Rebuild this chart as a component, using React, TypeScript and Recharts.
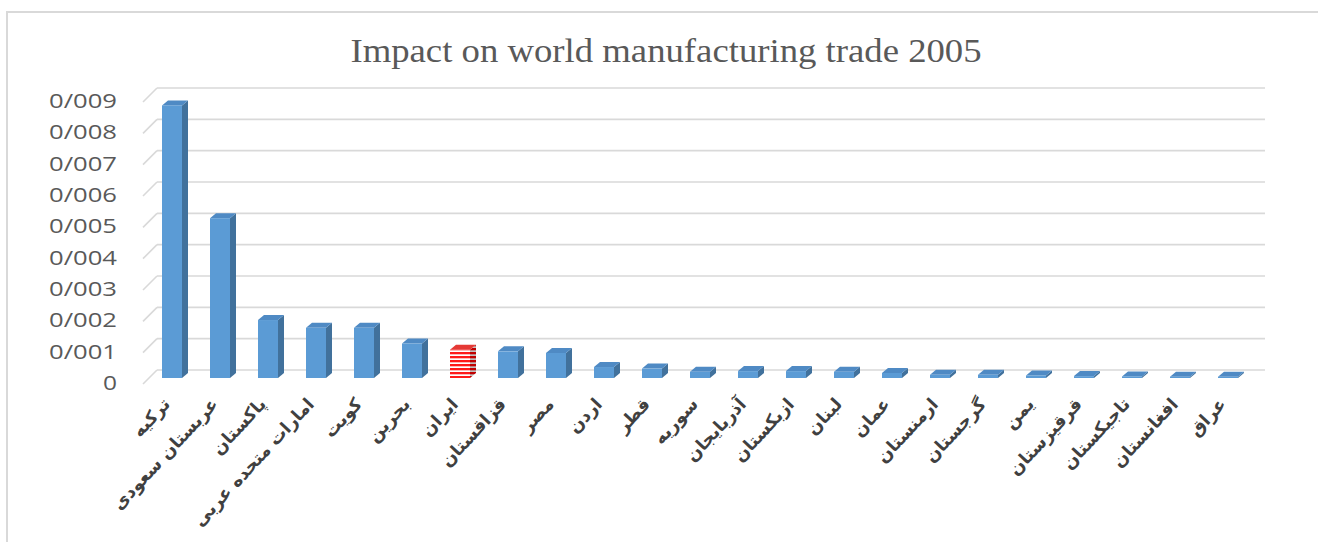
import { Bar, BarChart, CartesianGrid, XAxis, YAxis } from "recharts";

const countries = [
  "ترکیه",
  "عربستان سعودی",
  "پاکستان",
  "امارات متحده عربی",
  "کویت",
  "بحرین",
  "ایران",
  "قزاقستان",
  "مصر",
  "اردن",
  "قطر",
  "سوریه",
  "آذربایجان",
  "ازبکستان",
  "لبنان",
  "عمان",
  "ارمنستان",
  "گرجستان",
  "یمن",
  "قرقیزستان",
  "تاجیکستان",
  "افغانستان",
  "عراق",
];

const impact = [
  0.0087, 0.0051, 0.00185, 0.0016, 0.0016, 0.0011, 0.0009, 0.00085, 0.0008,
  0.00035, 0.0003, 0.0002, 0.00022, 0.00022, 0.0002, 0.00016, 0.0001, 0.0001,
  0.00008, 0.00006, 0.00005, 0.00004, 0.00004,
];

const highlighted = "ایران";

const yTicks = [0, 0.001, 0.002, 0.003, 0.004, 0.005, 0.006, 0.007, 0.008, 0.009];

const chartData = countries.map((name, i) => ({ name, value: impact[i] }));

// 3d depth of the bars
const DX = 6;
const DY = 5;

const fmtTick = (v: number) =>
  v === 0 ? "0" : "0/" + String(Math.round(v * 1000)).padStart(3, "0");

const Bar3D = (props: any) => {
  const { x, y, width, height, payload } = props;
  const hi = payload?.name === highlighted;
  const front = hi ? "url(#stripesFront)" : "#5b9bd5";
  const side = hi ? "url(#stripesSide)" : "#41719c";
  const top = hi ? "#e53935" : "#4f8ac4";
  return (
    <g>
      <polygon
        points={`${x + width},${y} ${x + width + DX},${y - DY} ${x + width + DX},${y + height - DY} ${x + width},${y + height}`}
        fill={side}
      />
      <polygon
        points={`${x},${y} ${x + DX},${y - DY} ${x + width + DX},${y - DY} ${x + width},${y}`}
        fill={top}
      />
      <rect x={x} y={y} width={width} height={height} fill={front} />
    </g>
  );
};

const backGrid = (props: any) => {
  const { x1, x2, y1, key } = props;
  const by = y1 - 8;
  return (
    <g key={key}>
      <line x1={x1 - 5} y1={by + 14} x2={x1 + 9} y2={by} stroke="#d9d9d9" strokeWidth={1.6} />
      <line x1={x1 + 9} y1={by} x2={x2 + 13} y2={by} stroke="#d9d9d9" strokeWidth={1.6} />
    </g>
  );
};

const YTick = ({ x, y, payload }: any) => {
  const label = fmtTick(payload.value);
  return (
    <text
      x={x}
      y={y + 12}
      textAnchor="end"
      fontFamily="Open Sans"
      fontSize={20}
      fill="#595959"
      textLength={label.length > 1 ? 68 : 14}
      lengthAdjust="spacingAndGlyphs"
    >
      {label}
    </text>
  );
};

const XTick = ({ x, y, payload }: any) => {
  const ax = x - 1;
  const ay = y + 27;
  return (
    <text
      x={ax}
      y={ay}
      transform={`rotate(-47, ${ax}, ${ay})`}
      textAnchor="end"
      fontFamily="DejaVu Sans"
      fontWeight="bold"
      fontSize={17.5}
      fill="#404040"
    >
      {payload.value}
    </text>
  );
};

const App = () => {
  return (
    <div style={{ position: "absolute", left: 0, top: 0, width: 1318, height: 542, background: "#fff" }}>
      <div
        style={{
          position: "absolute",
          left: 6,
          top: 11,
          width: 1312,
          height: 531,
          borderTop: "2px solid #d9d9d9",
          borderLeft: "2px solid #d9d9d9",
        }}
      />
      <div
        style={{
          position: "absolute",
          left: 0,
          top: 32,
          width: 1332,
          textAlign: "center",
          fontFamily: "Liberation Serif",
          fontSize: 34,
          color: "#595959",
          transform: "scaleX(1.08)",
          transformOrigin: "666px 0",
        }}
      >
        Impact on world manufacturing trade 2005
      </div>
      <div style={{ position: "absolute", left: 0, top: 0 }}>
        <BarChart
          width={1318}
          height={542}
          data={chartData}
          margin={{ top: 96, right: 66, bottom: 0, left: 0 }}
          barSize={20}
        >
          <defs>
            <pattern id="stripesFront" width="4" height="4" patternUnits="userSpaceOnUse">
              <rect width="4" height="4" fill="#ffffff" />
              <rect width="4" height="2.3" fill="#ff1a1a" />
            </pattern>
            <pattern id="stripesSide" width="4" height="4" patternUnits="userSpaceOnUse">
              <rect width="4" height="4" fill="#bfbfbf" />
              <rect width="4" height="2.3" fill="#c00000" />
            </pattern>
          </defs>
          <CartesianGrid vertical={false} horizontal={backGrid} />
          <XAxis
            dataKey="name"
            interval={0}
            axisLine={false}
            tickLine={false}
            tickSize={0}
            tickMargin={0}
            height={164}
            tick={<XTick />}
          />
          <YAxis
            domain={[0, 0.009]}
            ticks={yTicks}
            axisLine={false}
            tickLine={false}
            tickSize={0}
            tickMargin={31}
            width={148}
            tick={<YTick />}
          />
          <Bar dataKey="value" shape={<Bar3D />} isAnimationActive={false} />
        </BarChart>
      </div>
    </div>
  );
};

export default App;
